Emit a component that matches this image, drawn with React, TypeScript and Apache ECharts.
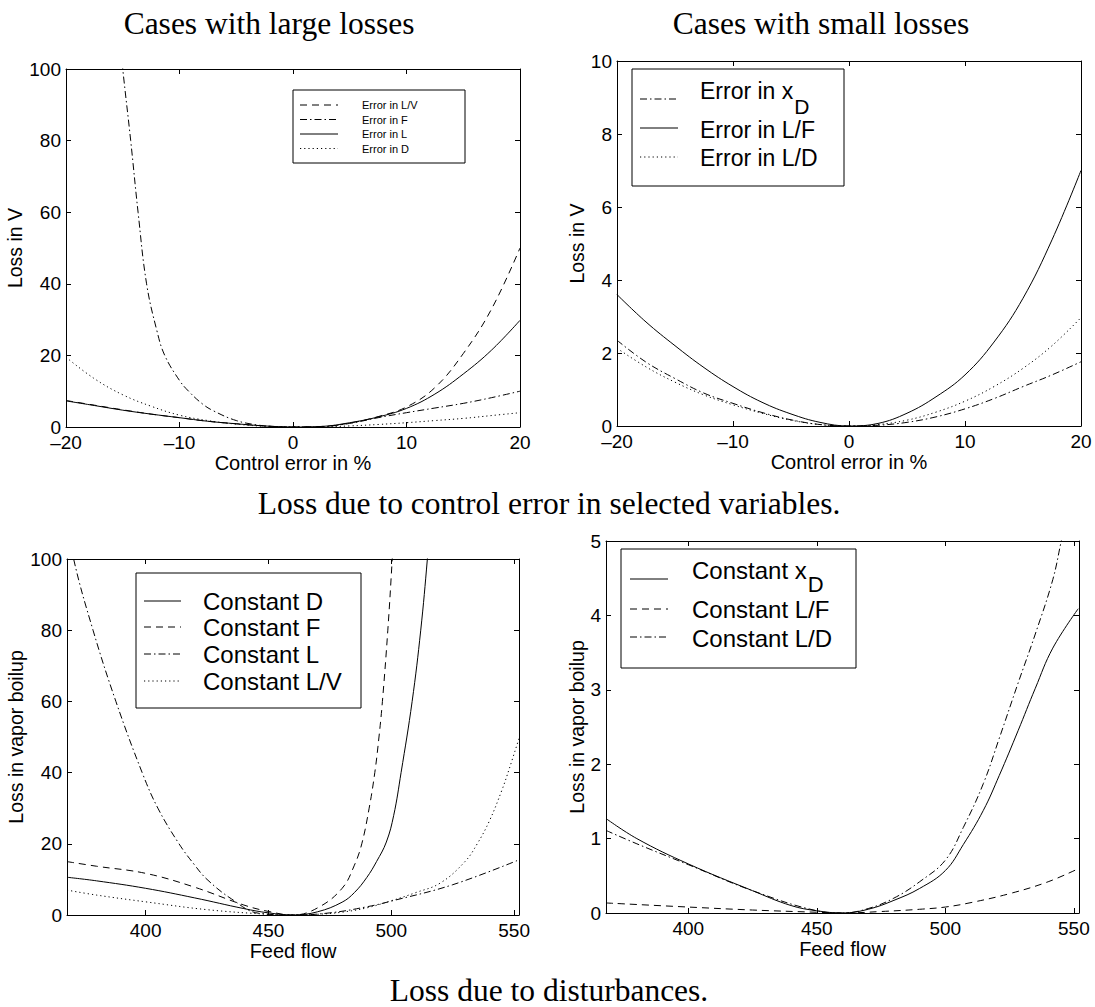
import React, { useEffect, useRef } from "react";
import * as echarts from "echarts";

// ---------- Data ----------
// Top-left: "Cases with large losses" (control error in %)
const errX = [-20, -17.5, -15, -12.5, -10, -7.5, -5, -2.5, 0, 2.5, 5, 7.5, 10, 12.5, 15, 17.5, 20];
const largeLV = [7.4, 6.1, 4.8, 3.6, 2.6, 1.6, 0.9, 0.3, 0, 0.15, 1.1, 2.9, 5.6, 11, 20.5, 33, 50];
const largeL = [7.3, 6.0, 4.7, 3.6, 2.6, 1.6, 0.9, 0.3, 0, 0.15, 1.2, 2.8, 5.2, 9.2, 14.8, 21.5, 29.8];
const largeD = [19.5, 13.5, 9, 5.8, 3.3, 1.8, 0.8, 0.2, 0, 0.05, 0.3, 0.7, 1.2, 1.8, 2.4, 3.2, 4.0];
const largeFX = [-15.3, -15, -14.3, -13.65, -12.9, -12, -11.3, -10, -9.2, -8, -7, -5, -3, -1.5, 0, 2.5, 5, 7.5, 10, 12.5, 15, 17.5, 20];
const largeF = [110, 100, 80, 60, 40, 27, 20, 13, 10, 6.5, 4.5, 1.8, 0.5, 0.1, 0, 0.1, 1.0, 2.6, 4.0, 5.3, 6.6, 8.2, 10];
const largeNames = ["Error in L/V", "Error in F", "Error in L", "Error in D"];

// Top-right: "Cases with small losses"
const smallXD = [2.35, 1.75, 1.3, 0.9, 0.62, 0.37, 0.17, 0.04, 0, 0.02, 0.1, 0.25, 0.47, 0.75, 1.08, 1.4, 1.76];
const smallLF = [3.6, 2.85, 2.2, 1.6, 1.08, 0.65, 0.33, 0.1, 0, 0.07, 0.35, 0.8, 1.4, 2.3, 3.5, 5.1, 7.0];
const smallLD = [2.13, 1.62, 1.2, 0.85, 0.58, 0.35, 0.16, 0.04, 0, 0.04, 0.16, 0.38, 0.68, 1.08, 1.58, 2.2, 2.97];
const smallNames = ["Error in x", "Error in L/F", "Error in L/D"];

// Bottom-left: disturbances, large losses (feed flow)
const distDX = [368, 380, 400, 420, 440, 450, 460, 470, 480, 485, 490, 494, 498, 501, 504, 508.5, 512, 514.7, 515.5];
const distD = [10.6, 9.6, 7.5, 4.8, 1.8, 0.6, 0, 0.9, 3.6, 6.3, 10.5, 15, 20.5, 28, 40, 60, 80, 100, 108];
const distFX = [368, 380, 400, 420, 440, 450, 460, 470, 480, 485, 488, 491, 493.3, 495, 496.4, 498.6, 500.4, 501];
const distF = [15, 13.7, 11.7, 7.8, 2.8, 1, 0, 2, 7.5, 14, 20, 30, 40, 50, 60, 80, 100, 108];
const distLX = [368, 370.7, 378.6, 387.9, 398.6, 405, 413.6, 420, 425, 435, 446, 460, 475, 490, 500, 525, 552];
const distL = [112, 100, 80, 60, 40, 30, 20, 14, 10, 4.5, 0.5, 0, 0.6, 2.3, 3.9, 8.5, 15.5];
const distLVX = [368, 380, 400, 425, 450, 460, 470, 480, 490, 500, 510, 520, 530, 535, 540, 545, 548, 552];
const distLV = [7, 5.6, 3.7, 1.5, 0.2, 0, 0.2, 0.8, 2, 4, 6.3, 9, 15, 20, 26.5, 35, 41, 49.6];
const distNames = ["Constant D", "Constant F", "Constant L", "Constant L/V"];

// Bottom-right: disturbances, small losses
const smXDX = [368, 380, 400, 425, 440, 450, 460, 470, 480, 490, 500, 507, 514.8, 521, 528.3, 535, 541.8, 551.7];
const smXD = [1.27, 1.0, 0.66, 0.3, 0.1, 0.03, 0, 0.05, 0.17, 0.33, 0.57, 0.92, 1.38, 1.85, 2.45, 3.02, 3.56, 4.09];
const smLFX = [368, 400, 425, 450, 460, 475, 490, 500, 510, 525, 540, 552];
const smLF = [0.135, 0.08, 0.04, 0.01, 0, 0.02, 0.05, 0.08, 0.14, 0.26, 0.42, 0.6];
const smLDX = [368, 380, 400, 425, 450, 460, 470, 480, 490, 500, 507, 514.8, 521, 528.3, 535, 541.8, 545.1, 547];
const smLD = [1.11, 0.93, 0.65, 0.3, 0.03, 0, 0.06, 0.2, 0.42, 0.71, 1.15, 1.74, 2.35, 3.09, 3.75, 4.48, 5.0, 5.3];
const smNames = ["Constant x", "Constant L/F", "Constant L/D"];

const feedTicks = [400, 450, 500, 550];
const titles = ["Cases with large losses", "Cases with small losses"];
const captions = ["Loss due to control error in selected variables.", "Loss due to disturbances."];
const xNames = ["Control error in %", "Control error in %", "Feed flow", "Feed flow"];
const yNames = ["Loss in V", "Loss in V", "Loss in vapor boilup", "Loss in vapor boilup"];

// ---------- Styles ----------
const SANS = '"Liberation Sans", Arial, Helvetica, sans-serif';
const SERIF = '"Liberation Serif", "Times New Roman", serif';
const SOLID: any = "solid";
const DASH = [7, 5];
const DASHDOT = [7, 3, 1.5, 3];
const DOT = [1.2, 3];

const GRIDS = [
  { left: 66, top: 69, width: 454, height: 358 },
  { left: 617, top: 61, width: 464, height: 365 },
  { left: 67, top: 559, width: 452, height: 356 },
  { left: 606, top: 541, width: 473, height: 372 },
];
const XR = [
  { min: -20, max: 20, interval: 10 },
  { min: -20, max: 20, interval: 10 },
  { min: 368, max: 552 },
  { min: 368, max: 552 },
];
const YR = [
  { min: 0, max: 100, interval: 20 },
  { min: 0, max: 10, interval: 2 },
  { min: 0, max: 100, interval: 20 },
  { min: 0, max: 5, interval: 1 },
];
const Y_NAME_GAP = [37, 26, 37, 16];

const zip = (xs: number[], ys: number[]) => xs.map((x, i) => [x, ys[i]]);
const fmt = (v: number) => (v < 0 ? "\u2013" + Math.abs(v) : String(v));

function buildAxes() {
  const xAxis: any[] = [];
  const yAxis: any[] = [];
  GRIDS.forEach((_, i) => {
    const line = { show: true, onZero: false, lineStyle: { color: "#000", width: 1 } };
    const tick: any = { show: true, inside: true, length: 5, lineStyle: { color: "#000", width: 1 } };
    const custom = i >= 2 ? { customValues: feedTicks } : {};
    const xr = XR[i];
    xAxis.push({
      type: "value", gridIndex: i, position: "bottom", ...xr,
      name: xNames[i], nameLocation: "middle", nameGap: 22,
      nameTextStyle: { fontFamily: SANS, fontSize: 20, color: "#000" },
      axisLine: line, axisTick: { ...tick, ...custom },
      axisLabel: { show: true, fontFamily: SANS, fontSize: 19, color: "#000", margin: 6, formatter: fmt, ...custom },
      splitLine: { show: false },
    });
    xAxis.push({
      type: "value", gridIndex: i, position: "top", ...xr,
      axisLine: line, axisTick: { ...tick, ...custom },
      axisLabel: { show: false, ...custom }, splitLine: { show: false },
    });
    const yr = YR[i];
    yAxis.push({
      type: "value", gridIndex: i, position: "left", ...yr,
      name: yNames[i], nameLocation: "middle", nameGap: Y_NAME_GAP[i],
      nameTextStyle: { fontFamily: SANS, fontSize: 19.5, color: "#000" },
      axisLine: line, axisTick: tick,
      axisLabel: { show: true, fontFamily: SANS, fontSize: 19, color: "#000", margin: 5, formatter: fmt },
      splitLine: { show: false },
    });
    yAxis.push({
      type: "value", gridIndex: i, position: "right", ...yr,
      axisLine: line, axisTick: tick, axisLabel: { show: false }, splitLine: { show: false },
    });
  });
  return { xAxis, yAxis };
}

function series(gi: number, name: string, data: number[][], dash: any, width = 1) {
  return {
    type: "line", name, xAxisIndex: gi * 2, yAxisIndex: gi * 2, data,
    showSymbol: false, symbol: "none", smooth: 0.4, clip: true, silent: true,
    lineStyle: { color: "#000", width, type: dash },
  };
}

type Row = { dash: any; ly: number; text: string; ty: number; sub?: string };
function legend(box: number[], lx: number[], tx: number, fs: number, rows: Row[]) {
  const els: any[] = [
    { type: "rect", z: 100, shape: { x: box[0], y: box[1], width: box[2], height: box[3] }, style: { fill: "#fff", stroke: "#000", lineWidth: 1 } },
  ];
  rows.forEach((r) => {
    els.push({
      type: "line", z: 101, shape: { x1: lx[0], y1: r.ly, x2: lx[1], y2: r.ly },
      style: { stroke: "#000", lineWidth: 1, lineDash: r.dash === SOLID ? null : r.dash },
    });
    const base: any = { fontFamily: SANS, fontSize: fs, fill: "#000", align: "left", verticalAlign: "middle", textAlign: "left", textVerticalAlign: "middle" };
    if (r.sub) {
      const subFs = Math.round(fs * 0.9);
      const L = 37;
      els.push({
        type: "text", z: 101, x: tx, y: r.ty + 6,
        style: {
          ...base,
          text: `{m|${r.text}}{s|${r.sub}}`,
          rich: {
            m: { fontFamily: SANS, fontSize: fs, fill: "#000", color: "#000", verticalAlign: "top", lineHeight: L },
            s: { fontFamily: SANS, fontSize: subFs, fill: "#000", color: "#000", verticalAlign: "bottom", lineHeight: L, padding: [0, 0, 0, 1] },
          },
        },
      });
    } else {
      els.push({ type: "text", z: 101, x: tx, y: r.ty, style: { ...base, text: r.text } });
    }
  });
  return els;
}

function serifText(text: string, x: number, y: number) {
  return {
    type: "text", x, y,
    style: { text, fontFamily: SERIF, fontSize: 31.5, fill: "#000", align: "center", verticalAlign: "middle", textAlign: "center", textVerticalAlign: "middle" },
  };
}

function buildOption() {
  const { xAxis, yAxis } = buildAxes();
  const seriesList = [
    series(0, largeNames[0], zip(errX, largeLV), DASH),
    series(0, largeNames[1], zip(largeFX, largeF), DASHDOT),
    series(0, largeNames[2], zip(errX, largeL), SOLID),
    series(0, largeNames[3], zip(errX, largeD), DOT),
    series(1, smallNames[0] + "D", zip(errX, smallXD), DASHDOT),
    series(1, smallNames[1], zip(errX, smallLF), SOLID),
    series(1, smallNames[2], zip(errX, smallLD), DOT),
    series(2, distNames[0], zip(distDX, distD), SOLID),
    series(2, distNames[1], zip(distFX, distF), DASH),
    series(2, distNames[2], zip(distLX, distL), DASHDOT),
    series(2, distNames[3], zip(distLVX, distLV), DOT),
    series(3, smNames[0] + "D", zip(smXDX, smXD), SOLID),
    series(3, smNames[1], zip(smLFX, smLF), DASH),
    series(3, smNames[2], zip(smLDX, smLD), DASHDOT),
  ];
  const graphic: any[] = [
    serifText(titles[0], 269, 23),
    serifText(titles[1], 821, 23),
    serifText(captions[0], 549, 503),
    serifText(captions[1], 549, 990),
    ...legend([293, 90, 172, 73], [300, 338], 362, 11, [
      { dash: DASH, ly: 105, text: largeNames[0], ty: 105 },
      { dash: DASHDOT, ly: 119.5, text: largeNames[1], ty: 119.5 },
      { dash: SOLID, ly: 134, text: largeNames[2], ty: 134 },
      { dash: DOT, ly: 148.5, text: largeNames[3], ty: 148.5 },
    ]),
    ...legend([632, 69, 212, 117], [640, 678], 700, 23, [
      { dash: DASHDOT, ly: 99, text: smallNames[0], ty: 92, sub: "D" },
      { dash: SOLID, ly: 128, text: smallNames[1], ty: 129.5 },
      { dash: DOT, ly: 157, text: smallNames[2], ty: 157.5 },
    ]),
    ...legend([136, 573, 225, 135], [144, 181], 203, 24, [
      { dash: SOLID, ly: 601, text: distNames[0], ty: 601.5 },
      { dash: DASH, ly: 627, text: distNames[1], ty: 627.5 },
      { dash: DASHDOT, ly: 654, text: distNames[2], ty: 654.5 },
      { dash: DOT, ly: 681, text: distNames[3], ty: 681.5 },
    ]),
    ...legend([621, 549, 235, 119], [630, 668], 692, 24, [
      { dash: SOLID, ly: 579, text: smNames[0], ty: 571, sub: "D" },
      { dash: DASH, ly: 609, text: smNames[1], ty: 609.5 },
      { dash: DASHDOT, ly: 637, text: smNames[2], ty: 638 },
    ]),
  ];
  return {
    animation: false,
    backgroundColor: "#fff",
    grid: GRIDS.map((g) => ({ ...g, containLabel: false, outerBoundsMode: "none" })),
    xAxis,
    yAxis,
    series: seriesList,
    graphic,
  };
}

export default function App() {
  const ref = useRef<HTMLDivElement>(null);
  useEffect(() => {
    document.body.style.margin = "0";
    const chart = echarts.init(ref.current as HTMLDivElement, null, { renderer: "svg" });
    chart.setOption(buildOption() as any);
    return () => chart.dispose();
  }, []);
  return <div ref={ref} style={{ width: 1095, height: 1007, position: "absolute", left: 0, top: 0 }} />;
}
